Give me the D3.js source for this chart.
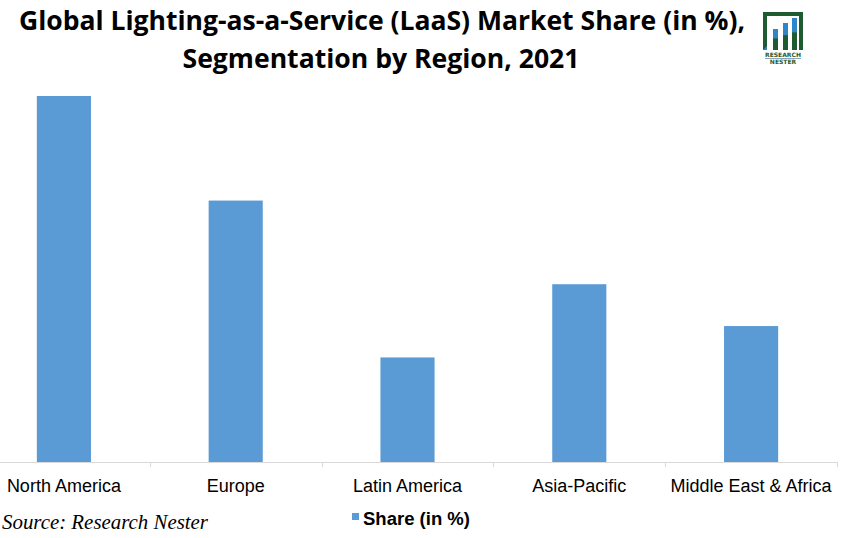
<!DOCTYPE html>
<html><head><meta charset="utf-8">
<script src="https://cdn.jsdelivr.net/npm/d3@7"></script>
<style>body{margin:0;background:#fff}svg{display:block}</style>
</head><body>
<script>
const categories = ["North America","Europe","Latin America","Asia-Pacific","Middle East & Africa"];
const shares = [35, 25, 10, 17, 13];
const seriesName = "Share (in %)";
const titleLines = ["Global Lighting-as-a-Service (LaaS) Market Share (in %),","Segmentation by Region, 2021"];
const sourceText = "Source: Research Nester";

const W = 843, H = 538;
const svg = d3.select("body").append("svg").attr("width", W).attr("height", H);

const x = d3.scaleBand().domain(categories).range([-22, 837]).paddingInner(0.685).paddingOuter(0.3425);
const y = d3.scaleLinear().domain([0, 35]).range([462, 96]);

// title
svg.append("text").attr("x", 382).attr("y", 30).attr("text-anchor","middle")
  .attr("font-family","'Open Sans', sans-serif").attr("font-weight","bold").attr("font-size",27)
  .attr("textLength",726).attr("lengthAdjust","spacingAndGlyphs").attr("fill","#000").text(titleLines[0]);
svg.append("text").attr("x", 381).attr("y", 68).attr("text-anchor","middle")
  .attr("font-family","'Open Sans', sans-serif").attr("font-weight","bold").attr("font-size",27)
  .attr("textLength",397).attr("lengthAdjust","spacingAndGlyphs").attr("fill","#000").text(titleLines[1]);

// logo
const logo = svg.append("g");
logo.append("path").attr("d","M763,12 H803 V50 H799 V16 H767 V50 H763 Z").attr("fill","#1e5b30");
[[773,29],[783,23],[792,18]].forEach(([bx,by])=>{
  logo.append("rect").attr("x",bx).attr("y",by).attr("width",5).attr("height",50-by).attr("fill","#1e5b30");
  logo.append("rect").attr("x",bx).attr("y",by).attr("width",5).attr("height",Math.max(0,(50-by)*0.45)).attr("fill","#2e86c8");
});
logo.append("path").attr("d","M763,50 L767,46 V50 Z").attr("fill","#2e86c8");
logo.append("text").attr("x",783).attr("y",57).attr("text-anchor","middle").attr("font-family","'DejaVu Sans'")
  .attr("font-weight","bold").attr("font-size",6).attr("fill","#1e5b30").text("RESEARCH");
logo.append("line").attr("x1",765).attr("x2",801).attr("y1",58.5).attr("y2",58.5).attr("stroke","#6a8fb0").attr("stroke-width",0.8);
logo.append("text").attr("x",783).attr("y",64).attr("text-anchor","middle").attr("font-family","'DejaVu Sans'")
  .attr("font-weight","bold").attr("font-size",6).attr("fill","#1e5b30").text("NESTER");

// bars
svg.append("g").selectAll("rect").data(categories).join("rect")
  .attr("x", d => x(d)).attr("width", x.bandwidth())
  .attr("y", (d,i) => y(shares[i])).attr("height", (d,i) => y(0) - y(shares[i]))
  .attr("fill", "#5b9bd5");

// axis
const step = x.step();
svg.append("line").attr("x1",0).attr("x2",838).attr("y1",y(0)+0.5).attr("y2",y(0)+0.5).attr("stroke","#d9d9d9");
svg.append("g").selectAll("line").data(categories).join("line")
  .attr("x1", d => Math.round(x(d)+x.bandwidth()/2+step/2)+0.5)
  .attr("x2", d => Math.round(x(d)+x.bandwidth()/2+step/2)+0.5)
  .attr("y1", y(0)).attr("y2", y(0)+5).attr("stroke","#d9d9d9");
svg.append("g").selectAll("text").data(categories).join("text")
  .attr("x", d => x(d)+x.bandwidth()/2).attr("y", 492).attr("text-anchor","middle")
  .attr("font-family","'Liberation Sans', Arial, sans-serif").attr("font-size",18).attr("fill","#000")
  .text(d => d);

// legend
svg.append("rect").attr("x",352).attr("y",513).attr("width",7).attr("height",7).attr("fill","#5b9bd5");
svg.append("text").attr("x",363).attr("y",525).attr("font-family","'Liberation Sans', Arial, sans-serif")
  .attr("font-weight","bold").attr("font-size",18).attr("textLength",107).attr("lengthAdjust","spacingAndGlyphs")
  .attr("fill","#000").text(seriesName);

// source
svg.append("text").attr("x",2).attr("y",529).attr("font-family","'Liberation Serif', serif")
  .attr("font-style","italic").attr("font-size",21).attr("textLength",206).attr("lengthAdjust","spacingAndGlyphs")
  .attr("fill","#000").text(sourceText);
</script>
</body></html>
